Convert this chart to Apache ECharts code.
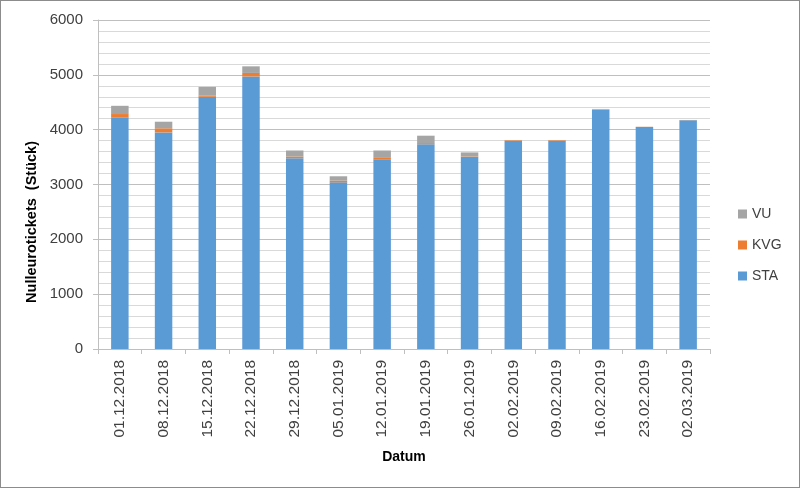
<!DOCTYPE html>
<html><head><meta charset="utf-8">
<script src="https://cdn.jsdelivr.net/npm/echarts@6/dist/echarts.min.js"></script>
<style>
html,body{margin:0;padding:0;background:#fff;}
#c{width:800px;height:488px;box-sizing:border-box;border:1px solid #8c8c8c;}
</style></head><body>
<div id="c"></div>
<script>
const categories = ['01.12.2018','08.12.2018','15.12.2018','22.12.2018','29.12.2018','05.01.2019','12.01.2019','19.01.2019','26.01.2019','02.02.2019','09.02.2019','16.02.2019','23.02.2019','02.03.2019'];
const STA = [4220,3950,4600,4970,3480,3040,3450,3735,3500,3795,3795,4370,4050,4170];
const KVG = [65,75,25,65,30,30,35,20,10,12,12,3,2,2];
const VU  = [150,120,155,120,110,80,135,135,75,5,5,5,3,5];
const yTitle = 'Nulleurotickets  (Stück)';
const xTitle = 'Datum';

const font = 'Liberation Sans';
const chart = echarts.init(document.getElementById('c'));
function bar(name, data, color){
  return {name, type:'bar', stack:'s', data, barWidth:'40%', itemStyle:{color}, emphasis:{disabled:true}};
}
chart.setOption({
  animation:false,
  grid:{left:97,right:89,top:19,bottom:138,containLabel:false},
  legend:{orient:'vertical', left:737, top:206, padding:0, itemGap:17, itemWidth:9, itemHeight:9, icon:'rect',
    data:['VU','KVG','STA'], textStyle:{fontFamily:font,fontSize:14,color:'#404040'}},
  graphic:[{type:'text', left:23, top:140, rotation:Math.PI/2,
    style:{text:yTitle, fontFamily:font, fontSize:14.5, fontWeight:'bold', fill:'#000'}}],
  xAxis:{type:'category', data:categories, name:xTitle, nameLocation:'middle', nameGap:101,
    nameTextStyle:{fontFamily:font,fontSize:14,fontWeight:'bold',color:'#000'},
    axisLine:{lineStyle:{color:'#bfbfbf'}}, axisTick:{show:true,length:5,lineStyle:{color:'#bfbfbf'}},
    axisLabel:{rotate:90, fontFamily:font, fontSize:15.5, color:'#404040', margin:11}},
  yAxis:{type:'value', min:0, max:6000, interval:1000,
    axisLine:{show:true,lineStyle:{color:'#bfbfbf'}}, axisTick:{show:true,length:5,lineStyle:{color:'#bfbfbf'}},
    axisLabel:{fontFamily:font,fontSize:15,color:'#404040',margin:15,formatter:v=>String(v)},
    splitLine:{lineStyle:{color:'#bfbfbf'}},
    minorTick:{show:false,splitNumber:5},
    minorSplitLine:{show:true,lineStyle:{color:'#d9d9d9'}}},
  series:[bar('STA',STA,'#5b9bd5'), bar('KVG',KVG,'#ed7d31'), bar('VU',VU,'#a5a5a5')]
});
</script></body></html>
